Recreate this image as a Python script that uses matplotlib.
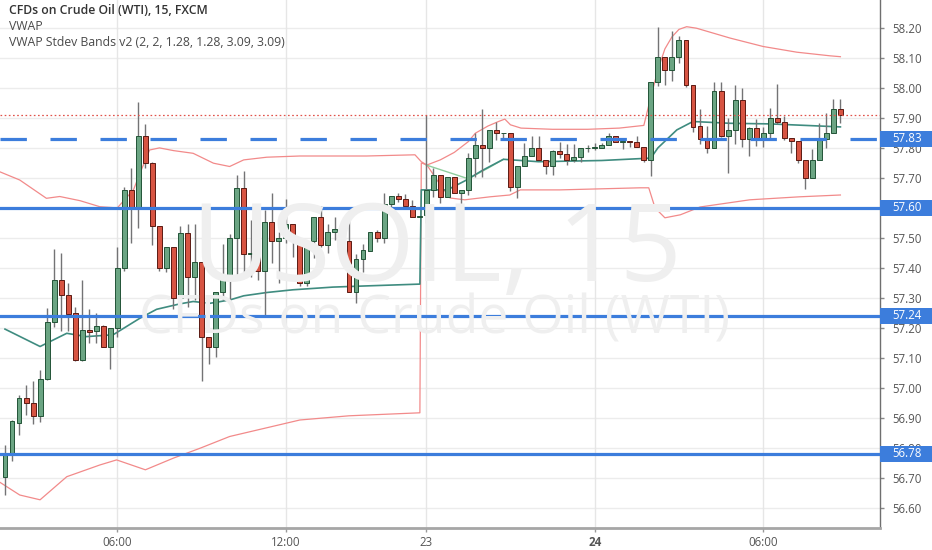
import matplotlib
matplotlib.use('Agg')
import matplotlib.pyplot as plt
from matplotlib.patches import Rectangle
from matplotlib.transforms import blended_transform_factory

plt.rcParams['font.family'] = ['Open Sans', 'DejaVu Sans']
plt.rcParams['lines.scale_dashes'] = False

# ---------------- data ----------------
opens = [56.704, 56.780, 56.884, 56.966, 56.951, 56.907, 57.029, 57.218, 57.360, 57.310,
         57.249, 57.093, 57.193, 57.188, 57.207, 57.138, 57.200, 57.399, 57.658, 57.602,
         57.840, 57.749, 57.540, 57.399, 57.468, 57.299, 57.516, 57.368, 57.418, 57.169,
         57.138, 57.319, 57.371, 57.499, 57.666, 57.447, 57.449, 57.391, 57.554, 57.488,
         57.499, 57.547, 57.488, 57.349, 57.488, 57.569, 57.477, 57.519, 57.529, 57.488,
         57.321, 57.429, 57.458, 57.519, 57.499, 57.613, 57.638, 57.629, 57.607, 57.571,
         57.577, 57.660, 57.710, 57.636, 57.702, 57.649, 57.660, 57.766, 57.810, 57.799,
         57.860, 57.849, 57.849, 57.669, 57.740, 57.773, 57.799, 57.758, 57.740, 57.788,
         57.780, 57.758, 57.769, 57.799, 57.800, 57.800, 57.810, 57.838, 57.821, 57.821,
         57.818, 57.804, 57.758, 58.021, 58.102, 58.060, 58.102, 58.160, 58.010, 57.873,
         57.829, 57.799, 57.991, 57.838, 57.860, 57.960, 57.829, 57.866, 57.829, 57.851,
         57.899, 57.888, 57.832, 57.824, 57.760, 57.699, 57.758, 57.829, 57.851, 57.929]
highs = [56.810, 56.893, 56.975, 57.010, 57.024, 57.058, 57.266, 57.462, 57.449, 57.351,
         57.271, 57.360, 57.262, 57.249, 57.210, 57.200, 57.468, 57.670, 57.732, 57.954,
         57.880, 57.754, 57.540, 57.470, 57.468, 57.540, 57.547, 57.547, 57.418, 57.169,
         57.320, 57.480, 57.512, 57.710, 57.724, 57.560, 57.529, 57.593, 57.651, 57.521,
         57.629, 57.547, 57.488, 57.488, 57.569, 57.607, 57.547, 57.569, 57.540, 57.566,
         57.447, 57.480, 57.520, 57.525, 57.651, 57.640, 57.651, 57.645, 57.627, 57.571,
         57.910, 57.732, 57.710, 57.702, 57.702, 57.660, 57.782, 57.849, 57.929, 57.860,
         57.888, 57.851, 57.850, 57.740, 57.816, 57.838, 57.838, 57.758, 57.793, 57.821,
         57.813, 57.813, 57.799, 57.810, 57.815, 57.818, 57.851, 57.838, 57.827, 57.821,
         57.838, 57.804, 58.021, 58.204, 58.102, 58.191, 58.173, 58.160, 58.010, 57.929,
         57.873, 58.021, 58.021, 57.899, 58.010, 57.999, 57.869, 57.895, 57.871, 57.932,
         58.013, 57.905, 57.832, 57.824, 57.760, 57.796, 57.884, 57.915, 57.962, 57.962]
lows = [56.643, 56.755, 56.843, 56.910, 56.880, 56.888, 57.025, 57.204, 57.188, 57.188,
        57.090, 57.090, 57.150, 57.150, 57.135, 57.062, 57.170, 57.390, 57.482, 57.532,
        57.732, 57.477, 57.391, 57.385, 57.262, 57.266, 57.271, 57.293, 57.023, 57.080,
        57.104, 57.293, 57.293, 57.371, 57.377, 57.370, 57.360, 57.238, 57.416, 57.351,
        57.482, 57.436, 57.340, 57.340, 57.432, 57.471, 57.449, 57.493, 57.451, 57.320,
        57.282, 57.388, 57.455, 57.485, 57.484, 57.582, 57.621, 57.600, 57.571, 57.571,
        57.550, 57.638, 57.616, 57.636, 57.651, 57.613, 57.643, 57.704, 57.704, 57.754,
        57.827, 57.832, 57.655, 57.632, 57.740, 57.773, 57.758, 57.713, 57.710, 57.766,
        57.743, 57.754, 57.754, 57.788, 57.793, 57.800, 57.810, 57.821, 57.796, 57.804,
        57.804, 57.754, 57.707, 58.007, 58.010, 58.024, 58.082, 58.002, 57.854, 57.813,
        57.782, 57.799, 57.836, 57.716, 57.813, 57.804, 57.773, 57.806, 57.804, 57.829,
        57.880, 57.826, 57.784, 57.751, 57.662, 57.699, 57.758, 57.799, 57.851, 57.882]
closes = [56.777, 56.888, 56.966, 56.951, 56.907, 57.029, 57.218, 57.360, 57.308, 57.247,
          57.093, 57.193, 57.187, 57.207, 57.138, 57.200, 57.399, 57.658, 57.602, 57.840,
          57.749, 57.540, 57.399, 57.468, 57.299, 57.516, 57.368, 57.418, 57.169, 57.138,
          57.319, 57.371, 57.499, 57.666, 57.447, 57.449, 57.391, 57.554, 57.488, 57.499,
          57.547, 57.488, 57.349, 57.488, 57.569, 57.477, 57.519, 57.529, 57.488, 57.321,
          57.429, 57.458, 57.519, 57.499, 57.613, 57.638, 57.629, 57.607, 57.571, 57.571,
          57.660, 57.710, 57.636, 57.702, 57.651, 57.660, 57.766, 57.810, 57.799, 57.860,
          57.849, 57.850, 57.669, 57.740, 57.773, 57.799, 57.758, 57.740, 57.788, 57.780,
          57.758, 57.769, 57.799, 57.800, 57.800, 57.810, 57.838, 57.821, 57.821, 57.820,
          57.804, 57.758, 58.021, 58.102, 58.060, 58.102, 58.160, 58.010, 57.869, 57.829,
          57.799, 57.991, 57.838, 57.860, 57.960, 57.829, 57.866, 57.829, 57.851, 57.899,
          57.888, 57.832, 57.824, 57.760, 57.699, 57.758, 57.829, 57.851, 57.929, 57.910]

vwap_x = [0, 5, 8.8, 11.6, 15.4, 19.2, 21.6, 24.9, 26.8, 29.2, 32, 34, 37.3, 41, 46.7, 51.5, 59.1,
          59.3, 63, 65.5, 68, 71, 76, 85, 92, 93, 95.7, 98, 103.3, 109, 118, 119]
vwap_y = [57.196, 57.138, 57.182, 57.171, 57.177, 57.232, 57.262, 57.280, 57.288, 57.282, 57.293,
          57.307, 57.318, 57.327, 57.336, 57.340, 57.346,
          57.660, 57.660, 57.690, 57.725, 57.762, 57.754, 57.758, 57.766, 57.800, 57.860, 57.888,
          57.882, 57.880, 57.871, 57.870]
basis_x = [60, 63, 66, 69, 71]
basis_y = [57.743, 57.720, 57.697, 57.735, 57.762]

upper_x = [-0.7, 2.1, 5.9, 7.8, 10.7, 13.5, 16, 18.3, 19.3, 20.6, 22, 24, 26.8, 29.7, 32, 34, 37.3,
           42, 51.5, 58.4, 59.3, 60.1, 62, 64, 66, 67, 68.8, 70.3, 71.2, 72, 73.5, 78, 83, 87.5, 91,
           92, 93, 94, 95, 96, 97.1, 98.5, 103.3, 108, 112.8, 117.5, 119]
upper_y = [57.720, 57.693, 57.632, 57.638, 57.624, 57.604, 57.600, 57.660, 57.720, 57.793, 57.800,
           57.791, 57.782, 57.749, 57.738, 57.760, 57.769, 57.773, 57.773, 57.777, 57.754, 57.743,
           57.760, 57.785, 57.821, 57.849, 57.873, 57.888, 57.896, 57.877, 57.866, 57.862, 57.862,
           57.866, 57.875, 57.970, 58.060, 58.130, 58.170, 58.195, 58.204, 58.199, 58.166, 58.138,
           58.119, 58.107, 58.104]
lower_x = [-0.7, 2.1, 5, 8.8, 13.5, 15.9, 20, 24, 27.8, 32, 42, 49, 59.1, 59.3, 60.1, 62, 63.4,
           65.5, 69.1, 71.9, 73.4, 79, 90.5, 91.7, 92.6, 94, 96.2, 99, 106.1, 113.2, 119]
lower_y = [56.685, 56.643, 56.627, 56.704, 56.743, 56.760, 56.727, 56.766, 56.799, 56.838, 56.893,
           56.907, 56.917, 57.750, 57.743, 57.677, 57.633, 57.627, 57.637, 57.643, 57.660, 57.660,
           57.667, 57.667, 57.600, 57.567, 57.577, 57.603, 57.627, 57.637, 57.643]

time_tick_idx = [16, 40, 60, 84, 108]
time_tick_labels = ['06:00', '12:00', '23', '24', '06:00']
price_ticks = [56.60, 56.70, 56.80, 56.90, 57.00, 57.10, 57.20, 57.30, 57.40, 57.50,
               57.60, 57.70, 57.80, 57.90, 58.00, 58.10, 58.20]
price_tick_labels = ['56.60', '56.70', '56.80', '56.90', '57.00', '57.10', '57.20', '57.30',
                     '57.40', '57.50', '57.60', '57.70', '57.80', '57.90', '58.00', '58.10', '58.20']
level_dashed = 57.83
levels_solid = [57.60, 57.24, 56.78]
level_tags = ['57.83', '57.60', '57.24', '56.78']
last_price = 57.91

# ---------------- figure ----------------
W, H = 932, 550
fig = plt.figure(figsize=(W / 100, H / 100), dpi=100)
fig.patch.set_facecolor('white')
ax_left, ax_bottom, ax_w, ax_h = 0, (H - 527.7) / H, 880 / W, 527.7 / H
ax = fig.add_axes([ax_left, ax_bottom, ax_w, ax_h])
ax.set_facecolor('white')
ax.set_xlim(-0.71, 124.64)
ax.set_ylim(56.534, 58.293)

# grid
for p in price_ticks:
    ax.axhline(p, color='#ececec', lw=1, zorder=0)
for t in time_tick_idx:
    ax.axvline(t, color='#e6e6e6', lw=1, zorder=0)

# watermark
fig.text(437 / W, (H - 281) / H, 'USOIL, 15', fontsize=78, color='#efefef',
         ha='center', va='baseline', zorder=0.2)
fig.text(435 / W, (H - 334) / H, 'CFDs on Crude Oil (WTI)', fontsize=38.5, color='#efefef',
         ha='center', va='baseline', zorder=0.2)

# indicators
ax.plot(upper_x, upper_y, color='#f28a8a', lw=0.9, zorder=2)
ax.plot(lower_x, lower_y, color='#f28a8a', lw=0.9, zorder=2)
ax.plot(basis_x, basis_y, color='#8fce9e', lw=1.0, zorder=2)
ax.plot(vwap_x, vwap_y, color='#3f8c80', lw=1.2, zorder=2.1)

# candles
idx = list(range(len(opens)))
up_col, dn_col = '#6ba583', '#d75442'
up_edge, dn_edge = '#225437', '#5b1a13'
cols = [up_col if c >= o else dn_col for o, c in zip(opens, closes)]
edges = [up_edge if c >= o else dn_edge for o, c in zip(opens, closes)]
ax.vlines(idx, lows, highs, color='#737375', lw=1, zorder=3)
heights = [max(abs(c - o), 0.002) for o, c in zip(opens, closes)]
bottoms = [min(o, c) for o, c in zip(opens, closes)]
ax.bar(idx, heights, bottom=bottoms, width=0.7, color=cols, edgecolor=edges, linewidth=0.7,
       zorder=4)

# levels
ax.axhline(level_dashed, color='#3c7ddc', lw=2.3, linestyle=(0, (19, 17)), zorder=5)
for lv in levels_solid:
    ax.axhline(lv, color='#3c7ddc', lw=2.3, zorder=5)
ax.axhline(last_price, color='#e0524a', lw=0.9, linestyle=(0, (1.2, 1.8)), zorder=5)

# axes styling
for s in ['left', 'top']:
    ax.spines[s].set_visible(False)
ax.spines['right'].set_color('#6f6f6f')
ax.spines['right'].set_linewidth(1)
ax.spines['bottom'].set_color('#a6a6a6')
ax.spines['bottom'].set_linewidth(2)

ax.yaxis.tick_right()
ax.set_yticks(price_ticks)
ax.set_yticklabels(price_tick_labels)
ax.tick_params(axis='y', length=3, width=1, color='#888', pad=6, labelsize=8.3,
               labelcolor='#555555')
ax.set_xticks(time_tick_idx)
ax.set_xticklabels(time_tick_labels)
ax.tick_params(axis='x', length=3, width=1, color='#999', pad=3, labelsize=8.3,
               labelcolor='#555555')
for lab in ax.get_xticklabels():
    if lab.get_text() == '24':
        lab.set_fontweight('bold')

# right-axis tags
tr = blended_transform_factory(ax.transAxes, ax.transData)
half = 8 / 300
for lv, txt in zip([level_dashed] + levels_solid, level_tags):
    ax.add_patch(Rectangle((1.0, lv - half), W / 880 - 1.0, 2 * half, transform=tr,
                           facecolor='#3c7ddc', edgecolor='none', clip_on=False, zorder=10))
    ax.text(892 / 880, lv, txt, transform=tr, color='white', fontsize=8.3, ha='left',
            va='center', clip_on=False, zorder=11)

# legend texts
fig.text(9 / W, (H - 11) / H, 'CFDs on Crude Oil (WTI), 15, FXCM', fontsize=8.8,
         fontweight='semibold', color='#333333', ha='left', va='center')
fig.text(9 / W, (H - 27) / H, 'VWAP', fontsize=8.8, color='#4a4a4a', ha='left', va='center')
fig.text(9 / W, (H - 42) / H, 'VWAP Stdev Bands v2 (2, 2, 1.28, 1.28, 3.09, 3.09)',
         fontsize=8.8, color='#4a4a4a', ha='left', va='center')

fig.savefig('out.png', dpi=100)
